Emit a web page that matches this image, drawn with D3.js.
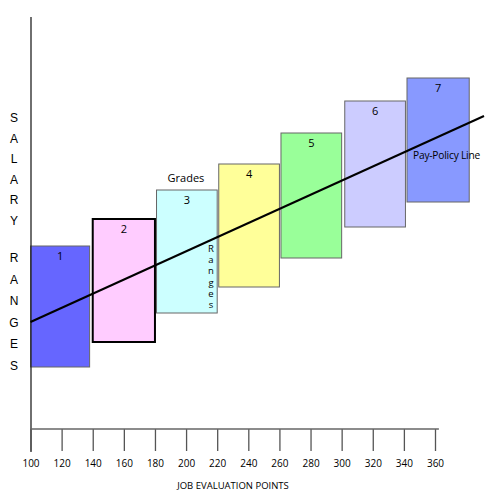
<!DOCTYPE html>
<html>
<head>
<meta charset="utf-8">
<script src="https://cdn.jsdelivr.net/npm/d3@7"></script>
<style>
  body { margin: 0; background: #fff; }
  svg { display: block; }
</style>
</head>
<body>
<svg id="chart"></svg>
<script>
const width = 487;
const height = 492;

// grade ranges: job evaluation points (x) and salary range (arbitrary units, y)
const grades = ["1", "2", "3", "4", "5", "6", "7"];
const pointsFrom = [100, 140, 181, 221, 261, 302, 342];
const pointsTo = [138, 180, 220, 260, 300, 341, 382];
const salaryMin = [85, 110, 139, 165, 194, 225, 250];
const salaryMax = [206, 233, 262, 288, 319, 351, 374];
const gradeColors = ["#6666ff", "#ffccff", "#ccffff", "#ffff99", "#99ff99", "#ccccff", "#8899ff"];

const tickValues = [100, 120, 140, 160, 180, 200, 220, 240, 260, 280, 300, 320, 340, 360];

// pay-policy line end points
const lineX = [100, 391.5];
const lineY = [130, 336];

const svg = d3.select('#chart')
    .attr('width', width)
    .attr('height', height);

const xScale = d3.scaleLinear()
    .domain([100, 360])
    .range([30.5, 435]);

const yScale = d3.scaleLinear()
    .domain([0, 440])
    .range([452, 12]);

// boxes
grades.forEach((g, i) => {
    const x0 = xScale(pointsFrom[i]);
    const x1 = xScale(pointsTo[i]);
    const y0 = yScale(salaryMax[i]);
    const y1 = yScale(salaryMin[i]);
    svg.append('rect')
       .attr('x', x0)
       .attr('y', y0)
       .attr('width', x1 - x0)
       .attr('height', y1 - y0)
       .attr('fill', gradeColors[i])
       .attr('stroke', i === 1 ? '#000' : '#666')
       .attr('stroke-width', i === 1 ? 2 : 1);
    svg.append('text')
       .attr('x', (x0 + x1) / 2)
       .attr('y', y0 + 14)
       .attr('text-anchor', 'middle')
       .attr('font-family', 'Open Sans, sans-serif')
       .attr('font-size', 11)
       .text(g);
});

// vertical axis
svg.append('line')
   .attr('x1', 31).attr('x2', 31)
   .attr('y1', yScale(435)).attr('y2', yScale(0))
   .attr('stroke', '#222')
   .attr('stroke-width', 1.3);

// horizontal axis
const xAxis = d3.axisBottom(xScale)
    .tickValues(tickValues)
    .tickSize(22)
    .tickSizeOuter(0)
    .tickPadding(9)
    .tickFormat(d3.format('d'));

const gx = svg.append('g')
    .attr('transform', 'translate(0,' + 429 + ')')
    .call(xAxis);
gx.select('.domain').remove();
gx.selectAll('.tick line').attr('stroke', '#555').attr('stroke-width', 1.3);
gx.selectAll('.tick text')
  .attr('font-family', 'Open Sans, sans-serif')
  .attr('font-size', 10)
  .attr('fill', '#000');
gx.append('line')
  .attr('x1', xScale(100)).attr('x2', xScale(362.5))
  .attr('y1', 0).attr('y2', 0)
  .attr('stroke', '#666')
  .attr('stroke-width', 1.5);

svg.append('text')
   .attr('x', 233)
   .attr('y', 489)
   .attr('text-anchor', 'middle')
   .attr('font-family', 'Open Sans, sans-serif')
   .attr('font-size', 9.5)
   .text('JOB EVALUATION POINTS');

// pay-policy line
svg.append('line')
   .attr('x1', xScale(lineX[0])).attr('y1', yScale(lineY[0]))
   .attr('x2', xScale(lineX[1])).attr('y2', yScale(lineY[1]))
   .attr('stroke', '#000')
   .attr('stroke-width', 2);

svg.append('text')
   .attr('x', 413)
   .attr('y', 159)
   .attr('font-family', 'Open Sans, sans-serif')
   .attr('font-size', 10.2)
   .attr('letter-spacing', -0.2)
   .text('Pay-Policy Line');

svg.append('text')
   .attr('x', 186)
   .attr('y', 182)
   .attr('text-anchor', 'middle')
   .attr('font-family', 'Open Sans, sans-serif')
   .attr('font-size', 11)
   .text('Grades');

// "Ranges" stacked vertically
'Ranges'.split('').forEach((c, i) => {
    svg.append('text')
       .attr('x', 211)
       .attr('y', 252 + i * 11.2)
       .attr('text-anchor', 'middle')
       .attr('font-family', 'Open Sans, sans-serif')
       .attr('font-size', 9.5)
       .text(c);
});

// "SALARY RANGES" stacked down the left side
'SALARY'.split('').forEach((c, i) => {
    svg.append('text')
       .attr('x', 14)
       .attr('y', 122 + i * 20.5)
       .attr('text-anchor', 'middle')
       .attr('font-family', 'Liberation Sans, Arial, sans-serif')
       .attr('font-size', 12)
       .text(c);
});
'RANGES'.split('').forEach((c, i) => {
    svg.append('text')
       .attr('x', 14)
       .attr('y', 262 + i * 21.6)
       .attr('text-anchor', 'middle')
       .attr('font-family', 'Liberation Sans, Arial, sans-serif')
       .attr('font-size', 12)
       .text(c);
});
</script>
</body>
</html>
